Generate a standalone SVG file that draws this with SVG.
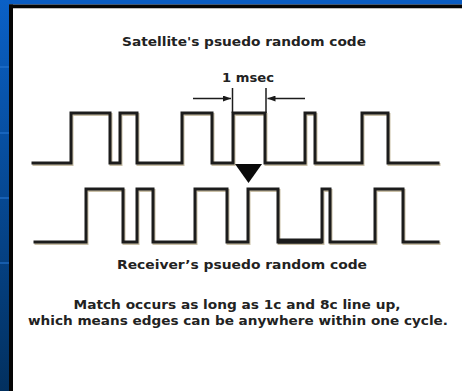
<svg xmlns="http://www.w3.org/2000/svg" width="462" height="391" viewBox="0 0 462 391">
<defs>
<linearGradient id="blue" x1="0" y1="0" x2="0" y2="1">
<stop offset="0" stop-color="#0a60c6"/>
<stop offset="1" stop-color="#02305f"/>
</linearGradient>
<marker id="ah" markerWidth="8" markerHeight="6" refX="8" refY="3" orient="auto" markerUnits="userSpaceOnUse">
<path d="M0,0 L8,3 L0,6 Z" fill="#1a1a1a"/>
</marker>
<style>
.wave{fill:none;stroke:#1c1c1c;stroke-width:3;stroke-linejoin:miter;stroke-linecap:square}
.shadow{fill:none;stroke:#c9bfa6;stroke-width:3;stroke-linejoin:miter;stroke-linecap:square}
.lbl{font-family:"DejaVu Sans","Liberation Sans",sans-serif;font-weight:bold;fill:#222;text-anchor:middle}
.dim{stroke:#1c1c1c;stroke-width:1.5;fill:none}
.band{stroke:#2a78d4;stroke-width:1.5;opacity:0.7}
</style>
</defs>
<rect x="0" y="0" width="462" height="391" fill="#ffffff"/>
<rect x="0" y="0" width="462" height="4.5" fill="#0a5cc2"/>
<rect x="0" y="0" width="9" height="391" fill="url(#blue)"/>
<line class="band" x1="0" y1="67" x2="9" y2="67"/>
<line class="band" x1="0" y1="133" x2="9" y2="133"/>
<line class="band" x1="0" y1="198" x2="9" y2="198"/>
<line class="band" x1="0" y1="263" x2="9" y2="263"/>
<rect x="9" y="4.5" width="453" height="3.5" fill="#050505"/>
<rect x="9" y="4.5" width="4" height="386.5" fill="#050505"/>
<line x1="13" y1="8.5" x2="462" y2="8.5" stroke="#bbbbbb" stroke-width="1"/>

<g id="title"><text class="lbl" x="244" y="46" font-size="12" textLength="244" lengthAdjust="spacingAndGlyphs">Satellite's psuedo random code</text></g>

<g id="satellite-code">
<polyline class="shadow" transform="translate(1,1.5)" points="33,163 71,163 71,113 110,113 110,163 120,163 120,113 137,113 137,163 182,163 182,113 212,113 212,163 233,163 233,113 265,113 265,163 305,163 305,113 315,113 315,163 362,163 362,113 388,113 388,163 438,163"/>
<polyline class="wave" points="33,163 71,163 71,113 110,113 110,163 120,163 120,113 137,113 137,163 182,163 182,113 212,113 212,163 233,163 233,113 265,113 265,163 305,163 305,113 315,113 315,163 362,163 362,113 388,113 388,163 438,163"/>
</g>

<g id="receiver-code">
<polyline class="shadow" transform="translate(1,1.5)" points="35,242 86,242 86,189 123,189 123,242 137,242 137,189 153,189 153,242 195,242 195,189 227,189 227,242 248,242 248,189 278,189 278,242 322,242 322,189 330,189 330,242 375,242 375,189 403,189 403,242 438,242"/>
<polyline class="wave" points="35,242 86,242 86,189 123,189 123,242 137,242 137,189 153,189 153,242 195,242 195,189 227,189 227,242 248,242 248,189 278,189 278,242 322,242 322,189 330,189 330,242 375,242 375,189 403,189 403,242 438,242"/>
<line x1="278" y1="241" x2="322" y2="241" stroke="#1c1c1c" stroke-width="5"/>
</g>

<g id="match-marker">
<polygon points="235,164 262,164 248.5,183" fill="#0a0a0a"/>
</g>

<g id="dimension">
<text class="lbl" x="248" y="82" font-size="11.5" textLength="52" lengthAdjust="spacingAndGlyphs">1 msec</text>
</g>
<g id="connectors">
<line class="dim" x1="232.5" y1="88" x2="232.5" y2="113"/>
<line class="dim" x1="266" y1="88" x2="266" y2="113" stroke="#555"/>
<line class="dim" x1="193" y1="98.5" x2="231" y2="98.5" marker-end="url(#ah)"/>
<line class="dim" x1="305" y1="98.5" x2="267.5" y2="98.5" marker-end="url(#ah)"/>
</g>

<g id="receiver-label"><text class="lbl" x="242" y="269" font-size="12" textLength="250" lengthAdjust="spacingAndGlyphs">Receiver’s psuedo random code</text></g>

<g id="note">
<text class="lbl" x="237" y="309" font-size="12" textLength="327" lengthAdjust="spacingAndGlyphs">Match occurs as long as 1c and 8c line up,</text>
<text class="lbl" x="238" y="324.5" font-size="12" textLength="420" lengthAdjust="spacingAndGlyphs">which means edges can be anywhere within one cycle.</text>
</g>
</svg>
